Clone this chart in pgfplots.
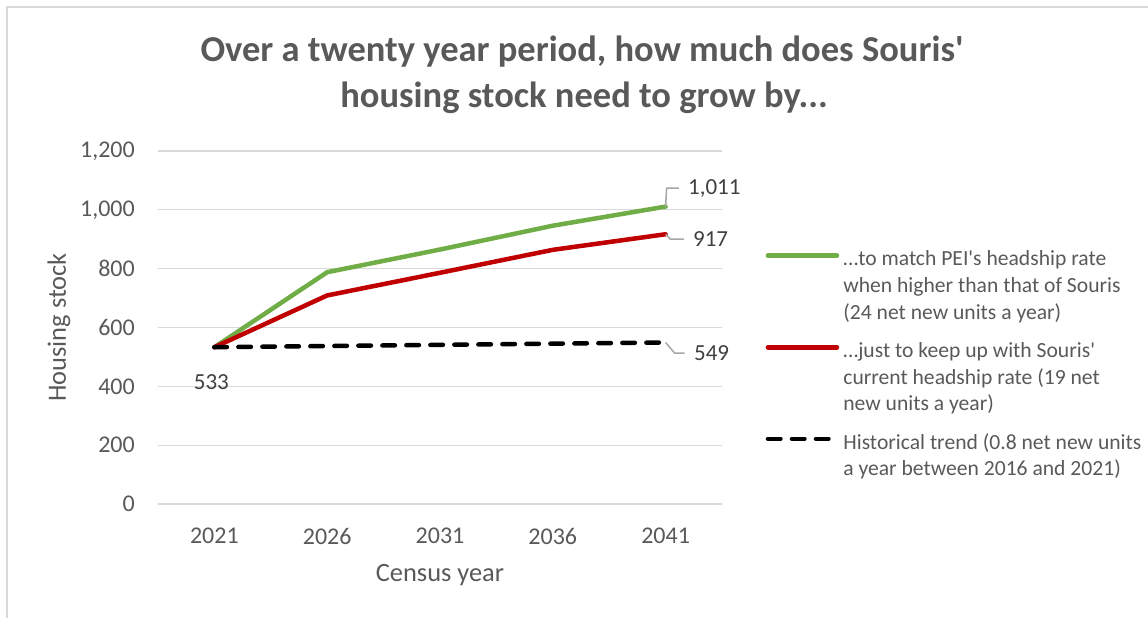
\documentclass[border=0pt]{standalone}
\usepackage{pgfplots}
\pgfplotsset{compat=1.18}
\usepackage{fontspec}
\setmainfont{Carlito}[Ligatures=TeXOff]
\definecolor{txt}{HTML}{595959}
\definecolor{lbl}{HTML}{404040}
\definecolor{gridc}{HTML}{D9D9D9}
\definecolor{gline}{HTML}{70AD47}
\definecolor{rline}{HTML}{C00000}
\definecolor{leader}{HTML}{A6A6A6}
\newcommand{\legtab}[1]{\begin{tabular}[b]{@{}l@{}}#1\end{tabular}}
\pgfplotsset{
  limgA/.style={legend image code/.code={\draw[##1] (-2pt,28.35pt) -- (67pt,28.35pt);}},
  limgB/.style={legend image code/.code={\draw[##1] (-2pt,15pt) -- (67pt,15pt);}},
}
\begin{document}
\begin{tikzpicture}[x=1pt,y=1pt]
\path[use as bounding box] (0pt,0pt) rectangle (1148pt,618pt);
\draw[gridc, line width=1.5pt] (7pt,0pt) -- (7pt,611pt) -- (1148pt,611pt);
\node[txt, font=\fontsize{36.5}{45}\selectfont\bfseries, anchor=base, inner sep=0pt] at (582pt,556pt) {Over a twenty year period, how much does Souris'};
\node[txt, font=\fontsize{36.5}{45}\selectfont\bfseries, anchor=base, inner sep=0pt] at (584pt,510.5pt) {housing stock need to grow by...};
\begin{axis}[
  at={(158pt,114pt)}, anchor=south west, scale only axis,
  width=564pt, height=353pt,
  xmin=-0.5, xmax=4.5, ymin=0, ymax=1200,
  xtick={0,1,2,3,4}, xticklabels={2021,2026,2031,2036,2041},
  ytick={0,200,...,1200},
  ymajorgrids, grid style={gridc, line width=1.3pt},
  axis line style={draw=none},
  major tick length=0pt,
  tick style={draw=none},
  /pgf/number format/1000 sep={,},
  /pgf/number format/assume math mode=true,
  ticklabel style={txt, font=\fontsize{24}{28}\selectfont, inner sep=0pt},
  yticklabel style={anchor=east, xshift=-23pt},
  xticklabel style={anchor=north, yshift=-24pt},
  xlabel={Census year}, ylabel={Housing stock},
  label style={txt, font=\fontsize{26.4}{30}\selectfont},
  xlabel style={at={(axis description cs:0.5,-0.2011)}, anchor=center},
  ylabel style={at={(axis description cs:-0.1755,0.5)}, anchor=center},
  clip=false,
  legend style={at={(axis description cs:1.0771,0.728)}, anchor=north west,
    draw=none, fill=none, inner sep=0pt, column sep=4.2pt, row sep=18pt,
    font=\fontsize{21.6}{26.7}\selectfont, text=txt,
    nodes={inner sep=0pt}},
  legend cell align=left,
]
\addplot[gline, line width=4.5pt, line join=round, line cap=round, limgA] coordinates {(0,533) (1,788) (2,865) (3,946) (4,1011)};
\addlegendentry{\legtab{…to match PEI's headship rate\\when higher than that of Souris\\(24 net new units a year)}}
\addplot[rline, line width=4.5pt, line join=round, line cap=round, limgA] coordinates {(0,533) (1,709) (2,786) (3,864) (4,917)};
\addlegendentry{\legtab{…just to keep up with Souris'\\current headship rate (19 net\\new units a year)}}
\addplot[black, line width=4.5pt, line cap=round, dash pattern=on 12.5pt off 11.5pt, limgB] coordinates {(0,533) (1,537) (2,541) (3,545) (4,549)};
\addlegendentry{\legtab{Historical trend (0.8 net new units\\a year between 2016 and 2021)}}
\draw[leader, line width=1.5pt] (axis cs:4,1011) -- ++(1pt,18.4pt) -- ++(12.3pt,0pt);
\node[lbl, anchor=west, inner sep=0pt, font=\fontsize{23}{28}\selectfont] at ([xshift=22.3pt,yshift=18.4pt]axis cs:4,1011) {1,011};
\draw[leader, line width=1.5pt] (axis cs:4,917) -- ++(5pt,-5pt) -- ++(13.3pt,0pt);
\node[lbl, anchor=west, inner sep=0pt, font=\fontsize{23}{28}\selectfont] at ([xshift=27.3pt,yshift=-5pt]axis cs:4,917) {917};
\draw[leader, line width=1.5pt] (axis cs:4,549) -- ++(9pt,-10.6pt) -- ++(10pt,0pt);
\node[lbl, anchor=west, inner sep=0pt, font=\fontsize{23}{28}\selectfont] at ([xshift=28.3pt,yshift=-10.6pt]axis cs:4,549) {549};
\node[lbl, anchor=center, inner sep=0pt, font=\fontsize{23}{28}\selectfont] at ([xshift=-3pt,yshift=-34.5pt]axis cs:0,533) {533};
\end{axis}
\end{tikzpicture}
\end{document}
